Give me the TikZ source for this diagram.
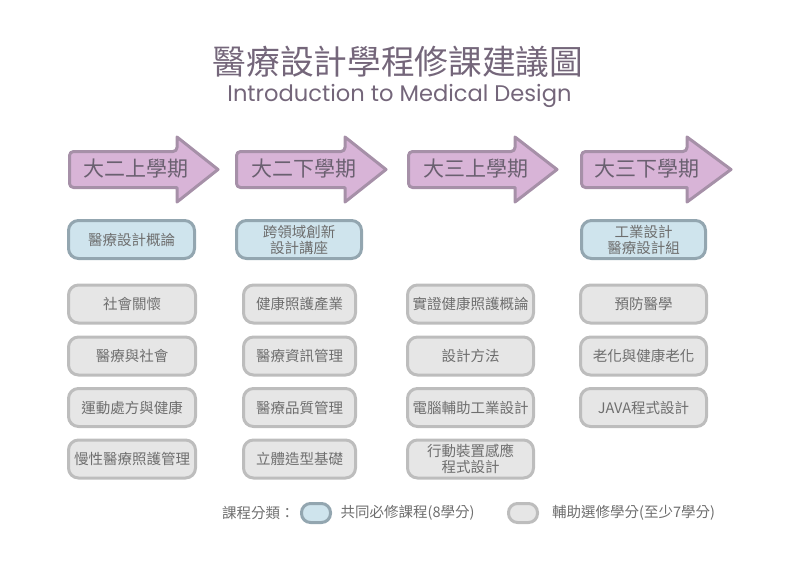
\documentclass[tikz,border=0pt]{standalone}
\usepackage{fontspec}
\setmainfont{Noto Sans CJK TC}
\newfontfamily\latinfont{Poppins}
\definecolor{arrfill}{HTML}{D8B4D7}
\definecolor{arrline}{HTML}{A690A8}
\definecolor{arrtext}{HTML}{6A6070}
\definecolor{bluefill}{HTML}{CFE4ED}
\definecolor{blueline}{HTML}{93A6B0}
\definecolor{grayfill}{HTML}{E6E6E6}
\definecolor{grayline}{HTML}{BDBDBD}
\definecolor{boxtext}{HTML}{6E6E6E}
\definecolor{titletext}{HTML}{74667A}
\tikzset{
  semarrow/.style={fill=arrfill, draw=arrline, line width=3pt, line join=round},
  semtext/.style={text=arrtext, font=\fontsize{21}{23}\selectfont, inner sep=0pt},
  coursebox/.style={rounded corners=10pt, line width=3pt, minimum height=38pt,
    align=center, text=boxtext, font=\fontsize{14.5}{17}\selectfont, inner sep=1pt},
  corebox/.style={coursebox, fill=bluefill, draw=blueline},
  electbox/.style={coursebox, fill=grayfill, draw=grayline},
  legendpill/.style={rounded corners=9pt, line width=3pt, minimum width=29pt, minimum height=19pt, inner sep=0pt},
  legendtext/.style={text=boxtext, font=\fontsize{14.5}{17}\selectfont, inner sep=0pt, anchor=west}
}
\begin{document}
\begin{tikzpicture}[x=1pt,y=-1pt]
\useasboundingbox (0,0) rectangle (800,563);
% title
\node[text=titletext, font=\fontsize{33.7}{38}\selectfont, inner sep=0pt] (title) at (398,62) {醫療設計學程修課建議圖};
\node[text=titletext, font=\latinfont\fontsize{22.6}{26}\selectfont, inner sep=0pt] (subtitle) at (399.5,95.5) {Introduction to Medical Design};
% semester arrows
\draw[semarrow, rounded corners=4pt] (69.5,151.5) -- (177,151.5) [sharp corners] -- (177,137) -- (218,169.5) -- (177,202) -- (177,187.5) [rounded corners=4pt] -- (69.5,187.5) -- cycle;
\draw[semarrow, rounded corners=4pt] (236.5,151.5) -- (345,151.5) [sharp corners] -- (345,137) -- (386,169.5) -- (345,202) -- (345,187.5) [rounded corners=4pt] -- (236.5,187.5) -- cycle;
\draw[semarrow, rounded corners=4pt] (408.5,151.5) -- (515,151.5) [sharp corners] -- (515,137) -- (557,169.5) -- (515,202) -- (515,187.5) [rounded corners=4pt] -- (408.5,187.5) -- cycle;
\draw[semarrow, rounded corners=4pt] (581.5,151.5) -- (687,151.5) [sharp corners] -- (687,137) -- (731,169.5) -- (687,202) -- (687,187.5) [rounded corners=4pt] -- (581.5,187.5) -- cycle;
\node[semtext] (s1) at (135.5,169) {大二上學期};
\node[semtext] (s2) at (303.5,169) {大二下學期};
\node[semtext] (s3) at (475.5,169) {大三上學期};
\node[semtext] (s4) at (646.5,169) {大三下學期};
% core courses
\node[corebox, minimum width=126pt] (c1) at (131.5,239.5) {醫療設計概論};
\node[corebox, minimum width=125pt, font=\fontsize{14.5}{16}\selectfont] (c2) at (299,239.5) {跨領域創新\\設計講座};
\node[corebox, minimum width=124pt, font=\fontsize{14.5}{16}\selectfont] (c4) at (643.5,239.5) {工業設計\\醫療設計組};
% elective column 1
\node[electbox, minimum width=127pt] (e11) at (132,304) {社會關懷};
\node[electbox, minimum width=127pt] (e12) at (132,356) {醫療與社會};
\node[electbox, minimum width=127pt] (e13) at (132,407.5) {運動處方與健康};
\node[electbox, minimum width=127pt] (e14) at (132,459) {慢性醫療照護管理};
% elective column 2
\node[electbox, minimum width=112pt] (e21) at (299.5,304) {健康照護產業};
\node[electbox, minimum width=112pt] (e22) at (299.5,356) {醫療資訊管理};
\node[electbox, minimum width=112pt] (e23) at (299.5,407.5) {醫療品質管理};
\node[electbox, minimum width=112pt] (e24) at (299.5,459) {立體造型基礎};
% elective column 3
\node[electbox, minimum width=126pt] (e31) at (470.5,304) {實證健康照護概論};
\node[electbox, minimum width=126pt] (e32) at (470.5,356) {設計方法};
\node[electbox, minimum width=126pt] (e33) at (470.5,407.5) {電腦輔助工業設計};
\node[electbox, minimum width=126pt, font=\fontsize{14.5}{16}\selectfont] (e34) at (470.5,459) {行動裝置感應\\程式設計};
% elective column 4
\node[electbox, minimum width=126pt] (e41) at (643.5,304) {預防醫學};
\node[electbox, minimum width=126pt] (e42) at (643.5,356) {老化與健康老化};
\node[electbox, minimum width=126pt] (e43) at (643.5,407.5) {JAVA程式設計};
% legend
\node[legendtext] (lg) at (222,513) {課程分類：};
\node[legendpill, fill=bluefill, draw=blueline] (lp1) at (316,513) {};
\node[legendtext] (lt1) at (340.5,513) {共同必修課程(8學分)};
\node[legendpill, fill=grayfill, draw=grayline] (lp2) at (523,513) {};
\node[legendtext] (lt2) at (552,513) {輔助選修學分(至少7學分)};
\end{tikzpicture}
\end{document}
